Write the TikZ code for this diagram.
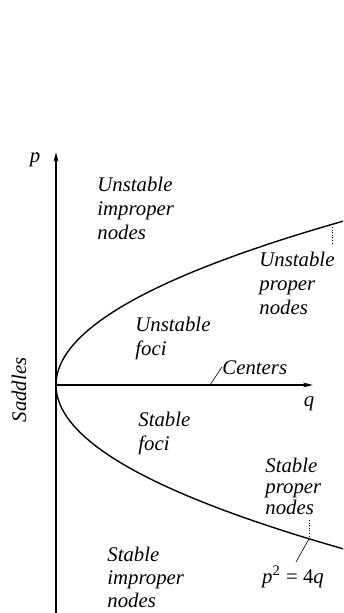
\documentclass[tikz,border=0pt]{standalone}
\usepackage{fontspec}
\setmainfont{Liberation Serif}
\usetikzlibrary{arrows.meta}

\begin{document}
\begin{tikzpicture}[
  x=0.5pt, y=0.5pt,
  lbl/.style={font=\itshape\fontsize{10.4}{12}\selectfont, align=left,
              inner sep=0pt, anchor=north west},
  axis/.style={-{Stealth[length=5pt,width=2.4pt]}, line width=0.7pt},
  curve/.style={line width=0.7pt},
  leader/.style={line width=0.3pt},
  dotleader/.style={line width=0.3pt, densely dotted}
]
\clip (0,0) rectangle (343,613);
\coordinate (O) at (56,228);
\coordinate (pbot) at (56,0);
\coordinate (ptop) at (56,461);
\coordinate (qend) at (313,228);
\draw[axis] (pbot) -- (ptop);
\draw[axis] (O) -- (qend);
\draw[curve] plot[domain=-17:17, samples=140, smooth] ({56+1.07*\x*\x},{228+10*\x});

\node[lbl, anchor=center] (plabel) at (35,453) {p};
\node[lbl, anchor=center] (qlabel) at (309,209) {q};
\node[lbl, anchor=center, rotate=90] (saddles) at (19,223) {Saddles};
\node[lbl] (unimp) at (97,436) {Unstable\\improper\\nodes};
\node[lbl] (unprop) at (259,361) {Unstable\\proper\\nodes};
\node[lbl] (unfoci) at (135,296) {Unstable\\foci};
\node[lbl] (centers) at (222,253) {Centers};
\node[lbl] (stfoci) at (138,201) {Stable\\foci};
\node[lbl, font=\itshape\fontsize{10.4}{10.5}\selectfont] (stprop) at (265,155) {Stable\\proper\\nodes};
\node[lbl, font=\itshape\fontsize{10.4}{11.5}\selectfont] (stimp) at (107,66) {Stable\\improper\\nodes};
\node[lbl, anchor=center] (parab) at (293,36) {p\textsuperscript{\upshape 2} {\upshape =} {\upshape 4}q};

\coordinate (cenfoot) at (210,228);
\coordinate (centip) at (222,246);
\draw[leader] (cenfoot) -- (centip);
\coordinate (upcurve) at (332,388.6);
\coordinate (uptip) at (332,370);
\draw[dotleader] (upcurve) -- (uptip);
\coordinate (lowcurve) at (309,74.2);
\coordinate (lowtip) at (309,93);
\coordinate (parabtip) at (296,51);
\draw[dotleader] (lowcurve) -- (lowtip);
\draw[leader] (lowcurve) -- (parabtip);
\end{tikzpicture}
\end{document}
